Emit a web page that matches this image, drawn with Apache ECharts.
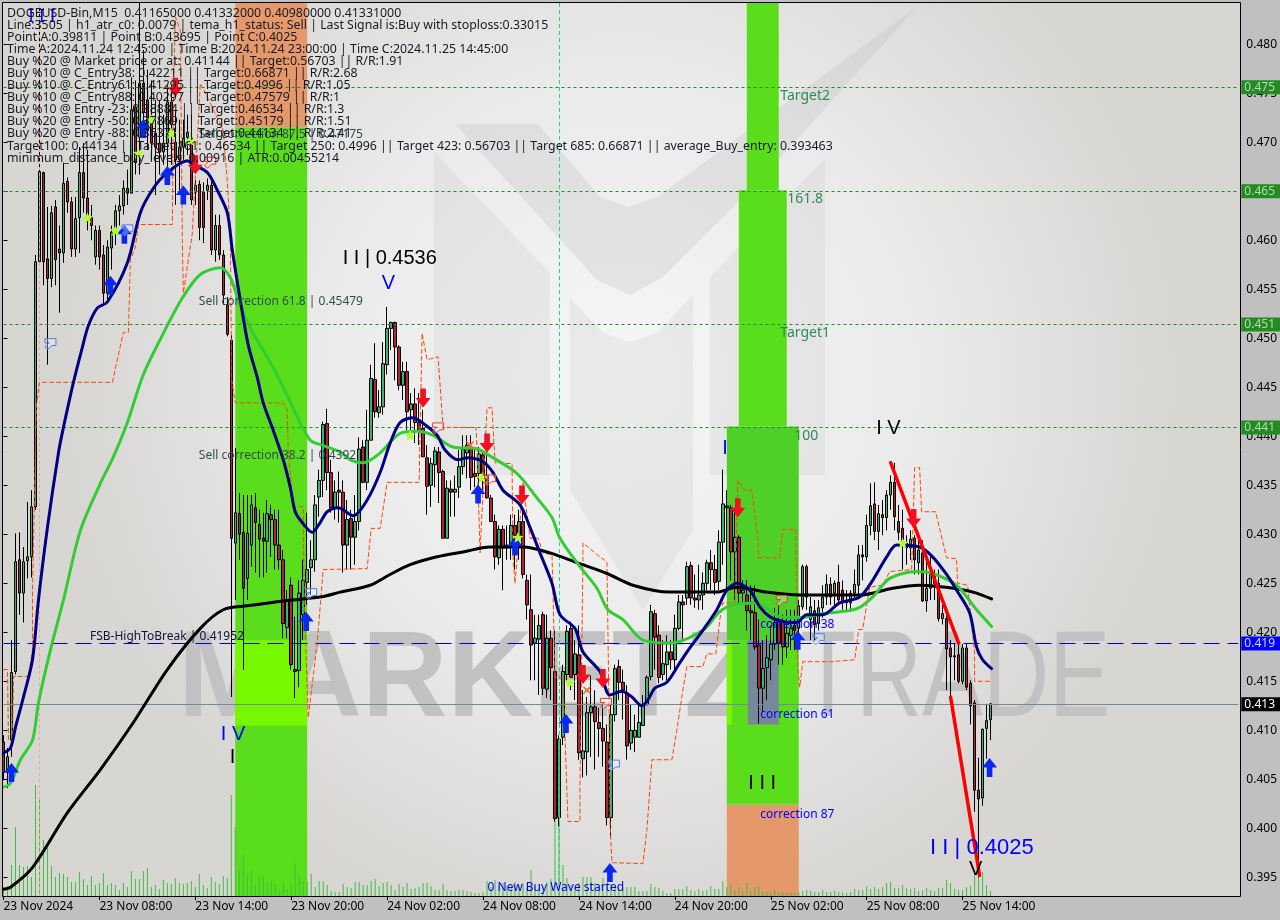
<!DOCTYPE html>
<html><head><meta charset="utf-8">
<style>html,body{margin:0;padding:0;background:#c0c0c0}#c{width:1280px;height:920px}</style>
<script src="https://cdn.jsdelivr.net/npm/echarts@6/dist/echarts.min.js"></script>
</head><body><div id="c"></div>
<script>
const tickLabels=['23 Nov 2024','23 Nov 08:00','23 Nov 14:00','23 Nov 20:00','24 Nov 02:00','24 Nov 08:00','24 Nov 14:00','24 Nov 20:00','25 Nov 02:00','25 Nov 08:00','25 Nov 14:00'];
const priceTicks=[0.395,0.400,0.405,0.410,0.415,0.420,0.425,0.430,0.435,0.440,0.445,0.450,0.455,0.460,0.465,0.470,0.475,0.480];
// open, close, high, low
const bars=[
[.4088,.4057,.4095,.4049],[.4057,.4073,.4082,.4041],[.4090,.4159,.4192,.4073],[.4160,.4272,.4301,.4157],[.4274,.4240,.4302,.4218],[.4240,.4272,.4287,.4210],[.4273,.4277,.4333,.4255],[.4277,.4328,.4345,.4256],[.4328,.4578,.4585,.4325],[.4578,.4670,.4840,.4578],
[.4669,.4578,.4670,.4554],[.4581,.4561,.4634,.4473],[.4561,.4628,.4635,.4552],[.4634,.4580,.4641,.4554],[.4591,.4587,.4615,.4526],[.4587,.4658,.4679,.4577],[.4660,.4639,.4664,.4628],[.4639,.4591,.4644,.4583],[.4591,.4622,.4644,.4583],[.4623,.4669,.4695,.4587],
[.4669,.4643,.4699,.4628],[.4643,.4623,.4692,.4610],[.4623,.4615,.4636,.4600],[.4583,.4610,.4615,.4575],[.4610,.4583,.4615,.4570],[.4585,.4546,.4595,.4536],[.4546,.4593,.4600,.4539],[.4592,.4608,.4615,.4570],[.4610,.4630,.4636,.4595],[.4630,.4635,.4646,.4615],
[.4635,.4653,.4661,.4626],[.4653,.4648,.4672,.4636],[.4648,.4733,.4766,.4648],[.4736,.4679,.4763,.4667],[.4705,.4760,.4843,.4667],[.4760,.4730,.4794,.4707],[.4743,.4712,.4774,.4692],[.4726,.4699,.4763,.4682],[.4709,.4695,.4743,.4646],[.4699,.4690,.4743,.4667],
[.4690,.4699,.4728,.4677],[.4699,.4741,.4758,.4672],[.4741,.4718,.4758,.4677],[.4700,.4682,.4733,.4636],[.4682,.4695,.4723,.4651],[.4695,.4704,.4723,.4682],[.4705,.4710,.4728,.4687],[.4704,.4641,.4728,.4636],[.4649,.4656,.4661,.4636],[.4657,.4613,.4661,.4600],
[.4649,.4613,.4659,.4597],[.4651,.4656,.4663,.4641],[.4656,.4590,.4663,.4585],[.4590,.4615,.4626,.4578],[.4615,.4585,.4626,.4580],[.4585,.4544,.4590,.4534],[.4534,.4504,.4542,.4502],[.4498,.4296,.4503,.4134],[.4291,.4322,.4388,.4233],[.4321,.4300,.4342,.4274],
[.4302,.4245,.4340,.4162],[.4255,.4301,.4340,.4233],[.4289,.4330,.4340,.4267],[.4327,.4312,.4342,.4261],[.4310,.4295,.4325,.4256],[.4296,.4293,.4322,.4256],[.4293,.4321,.4335,.4261],[.4320,.4315,.4330,.4277],[.4315,.4289,.4325,.4264],[.4289,.4274,.4325,.4264],
[.4274,.4209,.4284,.4194],[.4205,.4233,.4243,.4194],[.4248,.4167,.4256,.4162],[.4162,.4160,.4216,.4133],[.4161,.4240,.4253,.4144],[.4218,.4253,.4274,.4192],[.4251,.4264,.4322,.4228],[.4266,.4274,.4294,.4238],[.4274,.4330,.4340,.4262],[.4338,.4355,.4366,.4318],
[.4355,.4412,.4415,.4338],[.4413,.4363,.4428,.4345],[.4363,.4327,.4376,.4322],[.4327,.4343,.4355,.4315],[.4345,.4343,.4364,.4312],[.4343,.4289,.4355,.4261],[.4289,.4315,.4335,.4264],[.4316,.4297,.4325,.4264],[.4297,.4313,.4340,.4269],[.4313,.4387,.4399,.4304],
[.4389,.4353,.4396,.4352],[.4353,.4396,.4427,.4345],[.4396,.4459,.4473,.4396],[.4458,.4425,.4495,.4419],[.4424,.4430,.4447,.4419],[.4430,.4474,.4496,.4422],[.4473,.4510,.4532,.4463],[.4510,.4516,.4517,.4488],[.4516,.4491,.4517,.4457],[.4491,.4452,.4493,.4447],
[.4452,.4466,.4476,.4437],[.4466,.4425,.4476,.4406],[.4427,.4433,.4444,.4406],[.4433,.4414,.4449,.4393],[.4414,.4406,.4444,.4391],[.4408,.4379,.4427,.4379],[.4378,.4349,.4391,.4320],[.4350,.4372,.4378,.4328],[.4371,.4385,.4389,.4348],[.4384,.4363,.4389,.4332],
[.4364,.4296,.4366,.4296],[.4296,.4347,.4355,.4296],[.4346,.4343,.4355,.4318],[.4343,.4346,.4360,.4318],[.4348,.4369,.4386,.4337],[.4369,.4387,.4401,.4361],[.4383,.4391,.4401,.4357],[.4387,.4358,.4401,.4345],[.4362,.4359,.4389,.4348],[.4362,.4382,.4389,.4345],
[.4381,.4358,.4386,.4345],[.4360,.4337,.4381,.4337],[.4337,.4313,.4340,.4313],[.4313,.4277,.4320,.4264],[.4276,.4305,.4309,.4269],[.4305,.4286,.4309,.4243],[.4286,.4289,.4309,.4274],[.4287,.4309,.4320,.4274],[.4309,.4299,.4320,.4264],[.4299,.4313,.4325,.4274],
[.4313,.4259,.4325,.4255],[.4253,.4228,.4259,.4213],[.4223,.4187,.4259,.4151],[.4189,.4194,.4218,.4151],[.4193,.4207,.4218,.4136],[.4218,.4143,.4221,.4136],[.4142,.4194,.4218,.4133],[.4194,.4164,.4202,.4131],[.4160,.4010,.4202,.4007],[.4011,.4091,.4095,.4002],
[.4093,.4160,.4167,.4085],[.4157,.4201,.4207,.4151],[.4204,.4154,.4211,.4141],[.4157,.4178,.4192,.4131],[.4177,.4077,.4207,.4070],[.4071,.4079,.4141,.4052],[.4078,.4118,.4134,.4054],[.4118,.4124,.4156,.4073],[.4124,.4109,.4141,.4060],[.4108,.4102,.4123,.4073],
[.4102,.4089,.4126,.4063],[.4088,.4011,.4106,.4003],[.4011,.4116,.4126,.3991],[.4116,.4163,.4167,.4109],[.4165,.4149,.4172,.4131],[.4149,.4141,.4162,.4111],[.4138,.4084,.4146,.4070],[.4087,.4100,.4126,.4080],[.4093,.4100,.4116,.4078],[.4093,.4108,.4126,.4093],
[.4105,.4126,.4136,.4105],[.4126,.4154,.4156,.4126],[.4155,.4221,.4228,.4151],[.4219,.4195,.4223,.4162],[.4197,.4154,.4207,.4148],[.4157,.4168,.4192,.4151],[.4167,.4180,.4197,.4151],[.4180,.4172,.4192,.4162],[.4172,.4204,.4218,.4162],[.4204,.4231,.4238,.4202],
[.4231,.4228,.4238,.4192],[.4235,.4267,.4272,.4228],[.4268,.4235,.4272,.4228],[.4235,.4233,.4259,.4225],[.4233,.4238,.4269,.4223],[.4238,.4250,.4261,.4223],[.4250,.4271,.4274,.4243],[.4271,.4264,.4284,.4243],[.4264,.4251,.4279,.4238],[.4252,.4292,.4304,.4243],
[.4292,.4331,.4366,.4269],[.4329,.4327,.4345,.4243],[.4327,.4282,.4330,.4253],[.4282,.4297,.4325,.4233],[.4297,.4240,.4299,.4228],[.4240,.4243,.4253,.4228],[.4238,.4222,.4253,.4202],[.4222,.4220,.4248,.4192],[.4220,.4185,.4248,.4182],[.4187,.4143,.4213,.4107],
[.4143,.4163,.4192,.4119],[.4164,.4174,.4197,.4131],[.4172,.4188,.4207,.4151],[.4188,.4210,.4225,.4182],[.4211,.4189,.4228,.4167],[.4211,.4185,.4218,.4167],[.4185,.4199,.4223,.4174],[.4197,.4204,.4223,.4182],[.4207,.4202,.4223,.4182],[.4204,.4227,.4233,.4187],
[.4226,.4267,.4269,.4223],[.4267,.4236,.4269,.4223],[.4213,.4226,.4236,.4192],[.4222,.4208,.4233,.4192],[.4209,.4225,.4233,.4202],[.4225,.4236,.4248,.4215],[.4236,.4249,.4259,.4228],[.4249,.4236,.4256,.4228],[.4240,.4250,.4253,.4228],[.4251,.4233,.4269,.4228],
[.4243,.4231,.4253,.4223],[.4232,.4230,.4243,.4221],[.4230,.4240,.4243,.4221],[.4240,.4249,.4264,.4233],[.4248,.4279,.4289,.4238],[.4279,.4277,.4289,.4253],[.4277,.4309,.4320,.4272],[.4309,.4329,.4352,.4299],[.4331,.4303,.4353,.4294],[.4303,.4321,.4330,.4284],
[.4320,.4317,.4335,.4299],[.4317,.4340,.4345,.4304],[.4340,.4353,.4360,.4325],[.4353,.4318,.4373,.4304],[.4313,.4302,.4330,.4294],[.4306,.4292,.4325,.4264],[.4286,.4291,.4299,.4269],[.4286,.4295,.4304,.4274],[.4296,.4274,.4299,.4259],[.4271,.4284,.4294,.4259],
[.4281,.4232,.4294,.4231],[.4232,.4245,.4274,.4221],[.4245,.4259,.4279,.4233],[.4259,.4250,.4264,.4233],[.4250,.4214,.4264,.4211],[.4214,.4219,.4228,.4208],[.4214,.4183,.4223,.4141],[.4184,.4175,.4192,.4134],[.4176,.4175,.4189,.4151],[.4177,.4150,.4187,.4148],
[.4150,.4184,.4188,.4147],[.4184,.4144,.4188,.4141],[.4148,.4125,.4151,.4106],[.4128,.4039,.4131,.4017],[.4039,.4030,.4072,.3950],[.4031,.4101,.4102,.4023],[.4102,.4110,.4127,.4071],[.4111,.4127,.4128,.4090]
];
const volumes=[9,10,31,69,31,29,30,19,111,99,56,48,30,19,23,22,19,14,14,24,17,11,20,11,13,23,
11,13,11,6,13,9,25,17,17,25,28,9,11,7,16,13,12,18,13,12,13,15,9,22,
11,8,19,14,12,20,18,101,69,26,42,22,26,11,19,21,13,15,12,6,13,7,11,33,20,15,14,22,9,15,15,11,5,4,4,12,9,8,14,14,11,11,15,17,10,13,14,11,6,12,9,13,7,8,9,13,13,10,6,6,12,6,5,5,6,6,5,4,3,3,4,15,
9,16,11,13,10,8,14,10,13,9,26,10,12,9,14,17,118,118,31,18,11,9,13,19,19,19,13,10,
18,11,12,9,9,9,9,9,9,5,5,5,12,9,8,5,3,3,7,7,7,10,6,5,7,5,6,10,7,7,15,9,12,6,9,5,13,5,9,10,5,4,4,6,4,4,4,3,3,4,5,6,5,4,4,6,4,4,5,4,4,3,4,7,6,6,10,7,9,7,9,13,14,8,8,11,8,7,8,5,6,8,6,5,8,8,16,13,7,6,6,9,10,23,35,24,11,5];
const navyLine=[[0,.4077],[1.75,.4082],[3,.4103],[5,.4134],[7.25,.4172],[8.75,.4233],[11,.4307],[13.75,.4383],[15,.4409],[17.5,.4455],[19.75,.4491],[21.25,.4513],[23.5,.4531],[26,.4537],[31,.4577],[34.25,.4628],[37.5,.4653],[41,.4669],[46,.4681],[47.5,.4677],[51,.4669],[53.5,.4651],[56,.4628],[57.25,.4590],[59.25,.4539],[61.25,.4493],[63.5,.4460],[65,.4434],[67.5,.4406],[70,.4376],[71.75,.4348],[73,.4323],[74.75,.4312],[77.25,.4302],[79.25,.4312],[81,.4323],[83.75,.4327],[87.5,.4319],[91,.4335],[94.25,.4363],[96.75,.4393],[99.25,.4414],[102.5,.4419],[104.75,.4414],[108.5,.4401],[110.5,.4386],[113.75,.4376],[116,.4378],[120,.4374],[122.5,.4363],[125,.4345],[129.25,.4330],[131.75,.4307],[134.25,.4281],[137.25,.4250],[139.25,.4218],[143,.4204],[145,.4180],[149.25,.4160],[151.75,.4136],[154.75,.4140],[157.25,.4134],[159.75,.4125],[161.25,.4131],[163,.4143],[166,.4149],[169.25,.4169],[171.75,.4184],[175,.4202],[178.5,.4223],[181,.4243],[183.5,.4250],[186.75,.4243],[189.25,.4226],[191.75,.4216],[195,.4211],[198.5,.4210],[201,.4218],[205,.4218],[209.25,.4230],[214.25,.4236],[217.5,.4253],[221,.4277],[223.5,.4289],[229.25,.4287],[232.5,.4277],[236,.4259],[238.5,.4243],[241.75,.4220],[243.5,.4185],[245,.4172],[247.25,.4163]];
const greenLine=[[0,.4042],[1.75,.4046],[4.25,.4070],[7.25,.4090],[8.75,.4128],[11.75,.4182],[15,.4233],[19.25,.4304],[24.25,.4352],[27.5,.4379],[31,.4414],[35,.4463],[40,.4505],[44.75,.4541],[49.25,.4565],[54.25,.4572],[56.75,.4562],[58.75,.4539],[61.75,.4510],[66,.4481],[70,.4450],[73.5,.4420],[76.75,.4396],[79.75,.4391],[84.25,.4384],[86.75,.4376],[90,.4373],[94.25,.4383],[99.25,.4403],[103.5,.4405],[107.5,.4401],[112.5,.4389],[118.5,.4387],[122.5,.4378],[128.5,.4362],[133.5,.4337],[137.25,.4317],[139.25,.4296],[144.25,.4267],[148.5,.4245],[151.25,.4223],[155,.4213],[160,.4192],[166.75,.4189],[175,.4202],[179.25,.4221],[182.5,.4228],[188.5,.4230],[194.25,.4216],[199.25,.4215],[205,.4219],[213.5,.4224],[217.5,.4236],[221.75,.4255],[228.5,.4262],[232.5,.4260],[238.5,.4248],[243.5,.4223],[247.25,.4206]];
const blackLine=[[0,.3938],[1.75,.3940],[7.25,.3960],[16,.4016],[24.25,.4060],[32.5,.4108],[41,.4162],[49.25,.4204],[55,.4223],[61,.4227],[70,.4232],[79.25,.4236],[84.25,.4241],[91.75,.4248],[96.75,.4259],[101.75,.4269],[108.5,.4277],[115,.4282],[121.75,.4287],[130,.4287],[136.75,.4281],[143.5,.4271],[151,.4260],[157.5,.4248],[166.75,.4241],[178.5,.4241],[183.5,.4246],[191,.4241],[199.25,.4238],[214.25,.4238],[222.5,.4245],[229.25,.4248],[239.25,.4244],[243.5,.4240],[247.25,.4234]];
const stopLine=[[0,.4162],[1,.4162],[1.25,.4090],[2.25,.4090],[2.5,.4155],[6.25,.4155],[7.25,.4182],[7.25,.4240],[8,.4393],[8.25,.4432],[9,.4455],[27.25,.4455],[28.75,.4483],[30,.4506],[31.25,.4506],[31.75,.4580],[33,.4593],[33.75,.4616],[42.25,.4616],[42.5,.4743],[43,.4828],[44.25,.4814],[44.75,.4600],[45,.4546],[47.25,.4607],[49.25,.4760],[51,.4746],[55,.4712],[56,.4661],[56.75,.4607],[57,.4498],[57,.4460],[58,.4434],[70,.4434],[71,.4427],[71.25,.4386],[72.5,.4328],[75,.4328],[75.25,.4233],[76.25,.4113],[78.5,.4189],[80,.4264],[91,.4265],[92,.4306],[94.25,.4306],[96,.4353],[104,.4353],[104.75,.4505],[106,.4478],[108.75,.4481],[110,.4409],[118.25,.4409],[118.5,.4386],[119.25,.4281],[121,.4429],[122.25,.4429],[123,.4373],[127.25,.4372],[127.5,.4277],[128,.4250],[130,.4352],[131.75,.4296],[133.75,.4296],[135,.4281],[137.25,.4279],[137.5,.4243],[138,.4154],[140,.4154],[141,.4036],[141.25,.4007],[144.25,.4007],[144.25,.4042],[145,.4274],[145,.4291],[149.25,.4277],[151,.4272],[151.5,.4131],[151.75,.4009],[152.25,.3965],[160,.3964],[161,.3998],[162.25,.4070],[167.25,.4070],[168.5,.4100],[170,.4141],[171,.4165],[175,.4165],[176,.4178],[178.25,.4178],[179.25,.4213],[180,.4230],[183,.4230],[183.75,.4355],[185.5,.4345],[187.25,.4345],[188.75,.4297],[189,.4276],[194.25,.4276],[195,.4305],[198.25,.4305],[198.75,.4165],[199.25,.4144],[200,.4170],[207.25,.4170],[213,.4172],[214,.4203],[215,.4203],[216.75,.4246],[220,.4248],[221.75,.4262],[227.25,.4264],[228,.4368],[229.25,.4368],[229.75,.4323],[233.25,.4323],[236,.4276],[238.5,.4275],[238.75,.4250],[241.25,.4248],[243,.4179],[243,.4150],[247.25,.4150]];
const waveDown=[[222,.4373],[239,.4189]];
const waveDown2=[[237,.4134],[244.25,.3952]];
const buyArrows=[[2,.4057],[30.25,.4606],[26.75,.4554],[35,.4714],[41,.4666],[45,.4646],[75.75,.4211],[118.75,.4341],[128,.4288],[140.75,.4107],[151.75,.3955],[198.75,.4192],[246.75,.4062]];
const sellArrows=[[43,.4756],[48,.4677],[105,.4439],[121,.4393],[129.75,.4340],[183.75,.4327],[145,.4157],[150,.4153],[227.75,.4316]];
const stars=[[21,.4623],[28,.4610],[33.75,.4689],[37,.4723],[42,.4709],[46.75,.4702],[101.75,.4401],[119.75,.4358],[128.75,.4297],[141.75,.4149],[225,.4291]];
const buyFlags=[[11.75,.4494],[77,.4239],[204,.4193],[152.75,.4064],[31,.4610]];
const sellFlags=[[108.75,.4408],[121.75,.4355],[150.75,.4127],[194.75,.4232],[51.75,.4679]];
const crosses=[[116.75,.4391],[146,.4141]];
const levels=[
 {v:.4756,t:'0.475',c:'#228b22',tc:'#b8d8b8'},{v:.4650,t:'0.465',c:'#228b22',tc:'#b8d8b8'},{v:.4514,t:'0.451',c:'#228b22',tc:'#b8d8b8'},{v:.4409,t:'0.441',c:'#228b22',tc:'#b8d8b8'}];
const fsbLevel=.41885, lastLevel=.41265;
const annotations=[
 [48.75,.4537,'Sell correction 61.8 | 0.45479','#2f4f4f',12],[48.75,.4380,'Sell correction 38.2 | 0.4392','#2f4f4f',12],[48.75,.4708,'Sell correction 87.5 | 0.47175','#2f4f4f',12],
 [21.5,.4196,'FSB-HighToBreak | 0.41952','#10103a',12],[84.75,.4581,'I I | 0.4536','#000',20],[94.5,.4556,'V','#0000ff',20],
 [54.25,.4096,'I V','#0000ff',20],[56.5,.4072,'I','#000',20],[218.25,.4408,'I V','#000',20],[179.75,.4388,'I','#0000ff',20],[186.25,.4046,'I I I','#000',20],
 [231.75,.3980,'I I | 0.4025','#0000ff',22],[241.5,.3958,'V','#000',20],[6,.4828,'I I I','#0000ff',18],
 [194.25,.4747,'Target2','#2e8b57',14],[196,.4642,'161.8','#2e8b57',14],[194.25,.4505,'Target1','#2e8b57',14],[197.75,.4400,'100','#2e8b57',14],
 [189.25,.4208,'correction 38','#0000ff',12],[189.25,.4116,'correction 61','#0000ff',12],[189.25,.4014,'correction 87','#0000ff',12],[121,.3940,'0 New Buy Wave started','#0000ff',12]];
const headerLines=['DOGEUSD-Bin,M15  0.41165000 0.41332000 0.40980000 0.41331000',
'Line:3505 | h1_atr_c0: 0.0079 | tema_h1_status: Sell | Last Signal is:Buy with stoploss:0.33015',
'Point A:0.39811 | Point B:0.43695 | Point C:0.4025',
'Time A:2024.11.24 12:45:00 | Time B:2024.11.24 23:00:00 | Time C:2024.11.25 14:45:00',
'Buy %20 @ Market price or at: 0.41144 || Target:0.56703 || R/R:1.91',
'Buy %10 @ C_Entry38: 0.42211 || Target:0.66871 || R/R:2.68',
'Buy %10 @ C_Entry61: 0.41295 || Target:0.4996 || R/R:1.05',
'Buy %10 @ C_Entry88: 0.40297 || Target:0.47579 || R/R:1',
'Buy %10 @ Entry -23: 0.38884 || Target:0.46534 || R/R:1.3',
'Buy %20 @ Entry -50: 0.37869 || Target:0.45179 || R/R:1.51',
'Buy %20 @ Entry -88: 0.36371 || Target:0.44134 || R/R:2.41',
'Target100: 0.44134 || Target 161: 0.46534 || Target 250: 0.4996 || Target 423: 0.56703 || Target 685: 0.66871 || average_Buy_entry: 0.393463',
'minimum_distance_buy_levels: 0.00916 | ATR:0.00455214'];

const FONT='"Noto Sans"';
const categories=Array.from({length:310},(_,i)=>i%24===0&&tickLabels[i/24]?tickLabels[i/24]:String(i));
const isTick=i=>i%24===0&&i/24<tickLabels.length;
const ZG='#5ade1c',ZD='#4fd028',ZO='#e5986a',ZL='#78f800',ZS='#76899b';
const zone=(a,b,t,m,c)=>[{xAxis:a,yAxis:t,itemStyle:{color:c,opacity:1}},{xAxis:b,yAxis:m}];
const up='path://M0,-10 L8,0 L3,0 L3,10 L-3,10 L-3,0 L-8,0 Z';
const down='path://M0,10 L8,0 L3,0 L3,-10 L-3,-10 L-3,0 L-8,0 Z';
const star='path://M0,-10 L2.9,-3.1 L9.5,-3.1 L4.7,1.2 L5.9,8 L0,4.4 L-5.9,8 L-4.7,1.2 L-9.5,-3.1 L-2.9,-3.1 Z';
const flag='path://M-8,-8 L8,-8 L8,2 L2,2 L-4,8 L-8,4 L-2,-2 L-8,-2 Z';
const cross='path://M-7,-9 L0,-3 L7,-9 L9,-7 L3,0 L9,7 L7,9 L0,3 L-7,9 L-9,7 L-3,0 L-9,-7 Z';
const lineS=(d,c,w,z,type,sm)=>({type:'line',xAxisIndex:1,yAxisIndex:0,data:d,showSymbol:false,symbol:'none',z:z,silent:true,
  lineStyle:{color:c,width:w,type:type||'solid',cap:'round',join:'round'},smooth:sm||false});
const pts=(d,sym,size,col,z,extra)=>({type:'scatter',xAxisIndex:1,yAxisIndex:0,data:d,symbol:sym,symbolSize:size,z:z,silent:true,
  itemStyle:Object.assign({color:col,opacity:1},extra||{})});

const option={
 animation:false,backgroundColor:'#c0c0c0',
 grid:{left:3.5,top:2,width:1236,height:894,show:false},
 xAxis:[
  {type:'category',data:categories,boundaryGap:false,
   axisLine:{show:false},
   axisTick:{show:true,length:4,interval:(i)=>isTick(i),lineStyle:{color:'#000'}},
   axisLabel:{show:true,interval:(i)=>isTick(i),align:'left',margin:5,color:'#000',fontFamily:FONT,fontSize:12,hideOverlap:false,
     formatter:v=>v},
   splitLine:{show:false}},
  {type:'value',min:0,max:309,show:false,splitLine:{show:false}}
 ],
 yAxis:[
  {type:'value',position:'right',offset:1,min:.3931,max:.4843,scale:true,
   axisLine:{show:false},
   axisTick:{show:true,length:4,customValues:priceTicks,lineStyle:{color:'#000'}},
   axisLabel:{show:true,customValues:priceTicks,margin:7,color:'#000',fontFamily:FONT,fontSize:12,formatter:v=>v.toFixed(3)},
   splitLine:{show:false}},
  {type:'value',min:0,max:894,show:false,splitLine:{show:false}}
 ],
 graphic:[
  {type:'rect',z:-5,silent:true,shape:{x:3,y:3,width:1237,height:893},
   style:{fill:{type:'radial',x:.5,y:.42,r:.62,colorStops:[{offset:0,color:'#f6f6f6'},{offset:.55,color:'#eaeaea'},{offset:1,color:'#d8d6d3'}]}}},
  {type:'polygon',z:-4,silent:true,shape:{points:[[434,152],[550,273],[550,475],[434,475]]},style:{fill:'rgba(190,190,190,.2)'}},
  {type:'polygon',z:-4,silent:true,shape:{points:[[570,298],[603,333],[630,342],[657,333],[693,295],[693,530],[643,610],[570,490]]},style:{fill:'rgba(190,190,190,.2)'}},
  {type:'polygon',z:-4,silent:true,shape:{points:[[710,277],[825,158],[825,475],[710,475]]},style:{fill:'rgba(190,190,190,.2)'}},
  {type:'polygon',z:-4,silent:true,shape:{points:[[455,124],[538,124],[600,197],[628,207],[657,197],[917,7],[760,180],[663,277],[630,295],[597,280]]},style:{fill:'rgba(185,185,185,.25)'}},
  {type:'text',z:-3,silent:true,originX:178,scaleX:.97,style:{text:'MARKETZI',x:178,y:682,font:'bold 122px "Liberation Sans"',fill:'#c2c2c2',textVerticalAlign:'middle'}},
  {type:'text',z:-3,silent:true,originX:800,scaleX:.75,style:{text:'TRADE',x:800,y:682,font:'122px "Liberation Sans"',fill:'#c2c2c2',textVerticalAlign:'middle'}},
  ...headerLines.map((t,i)=>({type:'text',z:50,silent:true,style:{text:t,x:7,y:13+i*12.09,font:'12.35px '+FONT,fill:'#161a22',textVerticalAlign:'middle'}})),
  {type:'rect',z:60,silent:true,shape:{x:2.5,y:2.5,width:1238,height:894},style:{fill:'none',stroke:'#000',lineWidth:1}}
 ],
 series:[
  {type:'line',xAxisIndex:1,yAxisIndex:0,data:[[0,.42]],symbol:'none',z:1,silent:true,lineStyle:{opacity:0},
   markArea:{silent:true,animation:false,data:[
    zone(58,76,.4843,.4715,ZO),zone(58,76,.4715,.3931,ZG),zone(58,76,.4192,.4105,ZL),
    zone(186,194,.4843,.4651,ZG),zone(184,196,.4651,.4410,ZG),zone(181,199,.4410,.4192,ZD),zone(181,199,.4192,.4024,ZG),zone(181,199,.4024,.3931,ZO),
    zone(186.25,194,.4192,.4106,ZS),zone(181,182.25,.4192,.4106,ZL)]}},
  {type:'line',xAxisIndex:1,yAxisIndex:0,data:[[0,.42]],symbol:'none',z:2,silent:true,lineStyle:{opacity:0},
   markLine:{silent:true,animation:false,symbol:'none',precision:5,data:[
    ...levels.map(l=>({yAxis:l.v,lineStyle:{color:l.c,type:[3,3],width:1,opacity:1},
      label:{show:true,position:'end',distance:3,formatter:l.t,backgroundColor:l.c,color:l.tc,fontFamily:FONT,fontSize:12,padding:[0,8,0,3],lineHeight:14}})),
    {yAxis:fsbLevel,lineStyle:{color:'#0000cd',type:[16,8],width:1,opacity:1},
      label:{show:true,position:'end',distance:3,formatter:'0.419',backgroundColor:'#0000ff',color:'#d8d8ff',fontFamily:FONT,fontSize:12,padding:[0,8,0,3],lineHeight:14}},
    {yAxis:lastLevel,lineStyle:{color:'#778899',type:'solid',width:1,opacity:1},
      label:{show:true,position:'end',distance:3,formatter:'0.413',backgroundColor:'#000',color:'#fff',fontFamily:FONT,fontSize:12,padding:[0,8,0,3],lineHeight:14}},
    {xAxis:139,lineStyle:{color:'#16d98c',type:[4,3],width:1,opacity:1},label:{show:false}},
    {xAxis:9,lineStyle:{color:'#e8a890',type:[3,3],width:1,opacity:1},label:{show:false}}
   ]}},
  {type:'bar',xAxisIndex:0,yAxisIndex:1,data:volumes,barWidth:1,z:3,silent:true,clip:false,itemStyle:{color:'#3fbf3f'}},
  {type:'candlestick',xAxisIndex:0,yAxisIndex:0,barWidth:3,z:4,silent:true,clip:false,
   data:bars.map(b=>[b[0],b[1],b[3],b[2]]),
   itemStyle:{color:'#3cb371',color0:'#b22234',borderColor:'#000',borderColor0:'#000',borderWidth:1}},
  lineS(stopLine,'#ff4500',1,5,[4,3]),
  lineS(blackLine,'#000',3,6,null,.3),
  lineS(greenLine,'#32cd32',3,7,null,.3),
  lineS(navyLine,'#000080',3,8,null,.3),
  lineS(waveDown,'#ff0000',3.5,9),
  lineS(waveDown2,'#ff0000',3.5,9),
  pts(buyArrows,up,[15,19],'#0a28f0',10),
  pts(sellArrows,down,[15,19],'#f01020',10),
  pts(stars,star,[11,11],'#adff2f',10),
  pts(buyFlags,flag,[11,11],'rgba(255,255,255,.3)',10,{borderColor:'#4a7df0',borderWidth:1}),
  pts(sellFlags,flag,[11,11],'rgba(255,255,255,.3)',10,{borderColor:'#f03a2a',borderWidth:1}),
  pts(crosses,cross,[8,8],'#f07030',10),
  {type:'scatter',xAxisIndex:1,yAxisIndex:0,z:40,silent:true,symbolSize:1,itemStyle:{color:'rgba(0,0,0,0)'},clip:false,
   data:annotations.map(a=>({value:[a[0],a[1]],label:{show:true,position:'right',distance:0,formatter:a[2],color:a[3],fontSize:a[4],opacity:1,
     fontFamily:a[4]>=20?'"Liberation Sans"':FONT}}))}
 ]
};
echarts.init(document.getElementById('c'),null,{renderer:'canvas'}).setOption(option);
</script></body></html>
